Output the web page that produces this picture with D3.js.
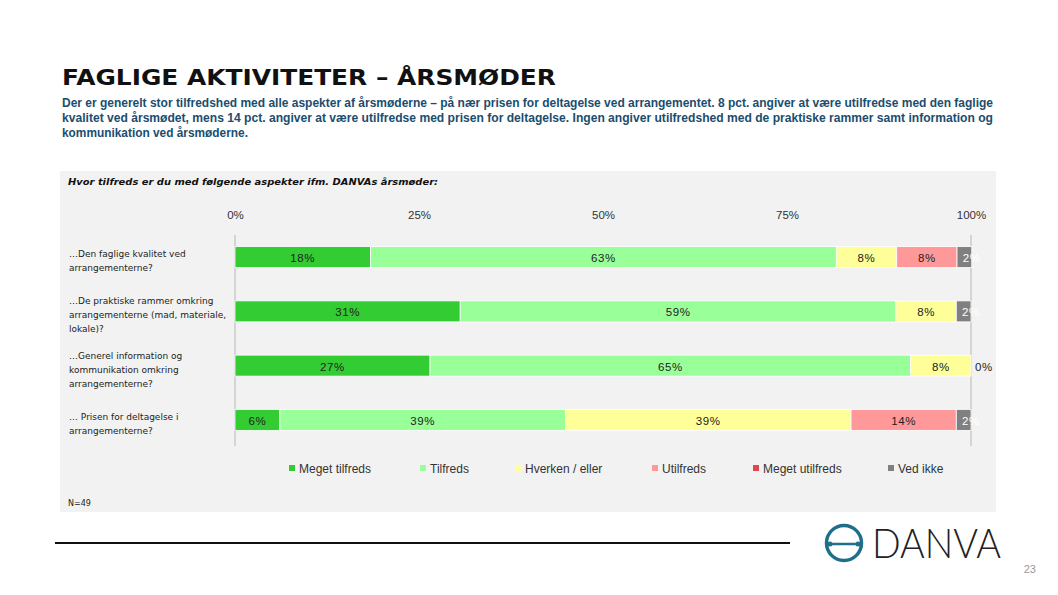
<!DOCTYPE html>
<html>
<head>
<meta charset="utf-8">
<script src="https://cdn.jsdelivr.net/npm/d3@7"></script>
<style>
  body { margin: 0; background: #fff; }
  svg { display: block; }
</style>
</head>
<body>
<svg id="chart"></svg>
<script>
// data
const categories = [
  ["…Den faglige kvalitet ved", "arrangementerne?"],
  ["…De praktiske rammer omkring", "arrangementerne (mad, materiale,", "lokale)?"],
  ["…Generel information og", "kommunikation omkring", "arrangementerne?"],
  ["… Prisen for deltagelse i", "arrangementerne?"]
];
const seriesNames = ["Meget tilfreds", "Tilfreds", "Hverken / eller", "Utilfreds", "Meget utilfreds", "Ved ikke"];
const megetTilfreds = [18.4, 30.6, 26.5, 6.1];
const tilfreds = [63.3, 59.2, 65.3, 38.8];
const hverken = [8.2, 8.2, 8.2, 38.8];
const utilfreds = [8.2, 0, 0, 14.3];
const megetUtilfreds = [0, 0, 0, 0];
const vedIkke = [2.0, 2.0, 0, 2.0];
const tickValues = [0, 25, 50, 75, 100];
const colors = ["#33cc33", "#99ff99", "#ffff99", "#ff9999", "#e0474c", "#808080"];

const width = 1058, height = 595;
const svg = d3.select("#chart").attr("width", width).attr("height", height);

// title block
svg.append("text")
  .attr("x", 62).attr("y", 85)
  .attr("font-family", "DejaVu Sans").attr("font-weight", "bold").attr("font-size", 21)
  .attr("textLength", 494).attr("lengthAdjust", "spacingAndGlyphs")
  .attr("fill", "#111")
  .text("FAGLIGE AKTIVITETER – ÅRSMØDER");

const intro = [
  "Der er generelt stor tilfredshed med alle aspekter af årsmøderne – på nær prisen for deltagelse ved arrangementet. 8 pct. angiver at være utilfredse med den faglige",
  "kvalitet ved årsmødet, mens 14 pct. angiver at være utilfredse med prisen for deltagelse. Ingen angiver utilfredshed med de praktiske rammer samt information og",
  "kommunikation ved årsmøderne."
];
const introLen = [931, 931, 186];
svg.append("g").selectAll("text")
  .data(intro)
  .join("text")
  .attr("x", 62).attr("y", (d, i) => 107 + i * 15)
  .attr("font-family", "Liberation Sans").attr("font-weight", "bold").attr("font-size", 12)
  .attr("textLength", (d, i) => introLen[i]).attr("lengthAdjust", "spacingAndGlyphs")
  .attr("fill", "#1b4d6e")
  .text(d => d);

// gray panel
svg.append("rect")
  .attr("x", 60).attr("y", 171).attr("width", 936).attr("height", 341)
  .attr("fill", "#f2f2f2");

svg.append("text")
  .attr("x", 68).attr("y", 185)
  .attr("font-family", "DejaVu Sans").attr("font-weight", "bold").attr("font-style", "italic")
  .attr("font-size", 9.5)
  .attr("textLength", 370).attr("lengthAdjust", "spacingAndGlyphs")
  .attr("fill", "#111")
  .text("Hvor tilfreds er du med følgende aspekter ifm. DANVAs årsmøder:");

svg.append("text")
  .attr("x", 68).attr("y", 506)
  .attr("font-family", "DejaVu Sans").attr("font-size", 8)
  .attr("fill", "#222")
  .text("N=49");

// scales
const x = d3.scaleLinear().domain([0, 100]).range([235, 971]);
const y = d3.scalePoint().domain(d3.range(categories.length)).range([230, 447]).padding(0.5);
const barH = 21;

// axis
const axis = svg.append("g")
  .attr("transform", "translate(0,222)")
  .call(d3.axisTop(x).tickValues(tickValues).tickSize(0).tickFormat(d => d + "%"));
axis.select(".domain").remove();
axis.selectAll("text")
  .attr("font-family", "Liberation Sans").attr("font-size", 11.5).attr("fill", "#333");

// vertical guide lines
svg.append("g").selectAll("line")
  .data([0, 100])
  .join("line")
  .attr("x1", d => x(d)).attr("x2", d => x(d))
  .attr("y1", 235).attr("y2", 446)
  .attr("stroke", "#d4d4d4").attr("stroke-width", 2);

// stacked bars
const rows = categories.map((c, i) => ({
  i,
  v: [megetTilfreds[i], tilfreds[i], hverken[i], utilfreds[i], megetUtilfreds[i], vedIkke[i]]
}));
const stack = d3.stack().keys(d3.range(seriesNames.length)).value((d, k) => d.v[k]);
const layers = stack(rows);

const gLayers = svg.append("g").selectAll("g")
  .data(layers)
  .join("g")
  .attr("fill", (d, k) => colors[k]);

gLayers.selectAll("rect")
  .data(d => d.map(p => ({ p, k: d.key })))
  .join("rect")
  .attr("x", d => x(d.p[0]))
  .attr("y", d => y(d.p.data.i) - barH / 2)
  .attr("width", d => x(d.p[1]) - x(d.p[0]))
  .attr("height", barH)
  .attr("stroke", "#fff").attr("stroke-width", 0.8);

// value labels (the "Ved ikke" labels sit on the bar end, like the original)
const lbl = [];
layers.forEach((layer, k) => layer.forEach(p => {
  const val = p[1] - p[0];
  if (val > 0 || (k === 5)) lbl.push({ k, p, val });
}));
svg.append("g").selectAll("text")
  .data(lbl)
  .join("text")
  .attr("x", d => d.k === 5 ? x(d.p[1]) + (d.val > 0 ? 0 : 13) : x((d.p[0] + d.p[1]) / 2))
  .attr("y", d => y(d.p.data.i) + 1)
  .attr("dominant-baseline", "central")
  .attr("text-anchor", "middle")
  .attr("font-family", "Liberation Sans").attr("font-size", 11.5)
  .attr("letter-spacing", 0.6)
  .attr("fill", d => d.k === 5 && d.val > 0 ? "#fff" : "#222")
  .text(d => Math.round(d.val) + "%");

// category labels
const gCat = svg.append("g").selectAll("g")
  .data(categories)
  .join("g")
  .attr("transform", (d, i) => `translate(69,${y(i) + 4 - (d.length - 1) * 7})`);
gCat.selectAll("text")
  .data(d => d)
  .join("text")
  .attr("y", (d, j) => j * 14)
  .attr("dominant-baseline", "central")
  .attr("font-family", "DejaVu Sans").attr("font-size", 9)
  .attr("fill", "#222")
  .text(d => d);

// legend
const legendX = [289, 420, 515, 652, 753, 888];
const leg = svg.append("g").selectAll("g")
  .data(seriesNames)
  .join("g")
  .attr("transform", (d, i) => `translate(${legendX[i]},468)`);
leg.append("rect")
  .attr("x", 0).attr("y", -3).attr("width", 6).attr("height", 6)
  .attr("fill", (d, i) => colors[i]);
leg.append("text")
  .attr("x", 10).attr("y", 1)
  .attr("dominant-baseline", "central")
  .attr("font-family", "Liberation Sans").attr("font-size", 12)
  .attr("fill", "#333")
  .text(d => d);

// footer rule
svg.append("line")
  .attr("x1", 55).attr("x2", 790).attr("y1", 543).attr("y2", 543)
  .attr("stroke", "#111").attr("stroke-width", 2);

// DANVA logo
const logo = svg.append("g").attr("transform", "translate(844,543)");
logo.append("circle").attr("r", 17.5)
  .attr("fill", "none").attr("stroke", "#1f6e8c").attr("stroke-width", 3.5);
logo.append("line").attr("x1", -15).attr("x2", 15).attr("y1", 1).attr("y2", 1)
  .attr("stroke", "#1f6e8c").attr("stroke-width", 2.5);
logo.selectAll("circle.dot").data([-14, 14]).join("circle")
  .attr("class", "dot").attr("cx", d => d).attr("cy", 1).attr("r", 2.5)
  .attr("fill", "#1f6e8c");
svg.append("text")
  .attr("x", 872).attr("y", 558)
  .attr("font-family", "Lato").attr("font-weight", 300).attr("font-size", 42)
  .attr("textLength", 129).attr("lengthAdjust", "spacingAndGlyphs")
  .attr("fill", "#222")
  .text("DANVA");

svg.append("text")
  .attr("x", 1036).attr("y", 573)
  .attr("text-anchor", "end")
  .attr("font-family", "Liberation Sans").attr("font-size", 11)
  .attr("fill", "#999")
  .text("23");
</script>
</body>
</html>
